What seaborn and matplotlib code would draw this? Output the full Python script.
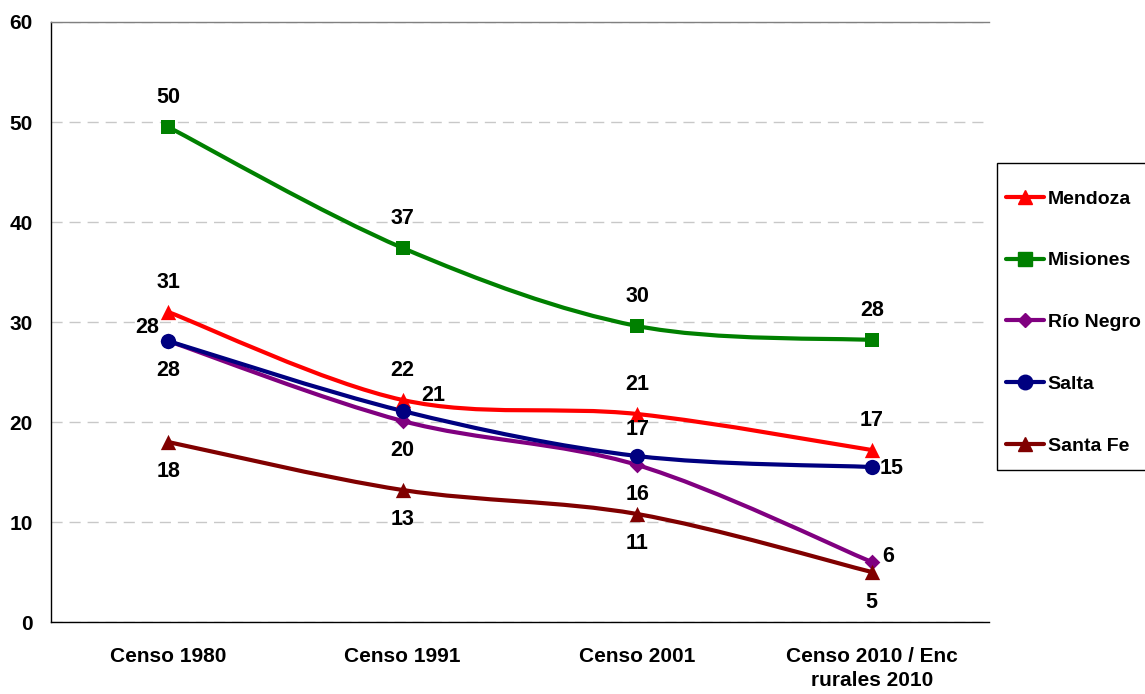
import matplotlib
matplotlib.use("Agg")
import matplotlib.pyplot as plt
import seaborn as sns
import pandas as pd
from matplotlib.path import Path
from matplotlib.patches import PathPatch, Rectangle
from matplotlib.lines import Line2D

# data
censos = ["Censo 1980", "Censo 1991", "Censo 2001", "Censo 2010 / Enc\nrurales 2010"]
mendoza = [31.0, 22.2, 20.8, 17.2]
misiones = [49.5, 37.4, 29.6, 28.2]
rio_negro = [28.1, 20.1, 15.7, 6.0]
salta = [28.1, 21.1, 16.6, 15.5]
santa_fe = [18.0, 13.2, 10.8, 5.0]
etiquetas = {
    "Mendoza": ["31", "22", "21", "17"],
    "Misiones": ["50", "37", "30", "28"],
    "Río Negro": ["28", "20", "16", "6"],
    "Salta": ["28", "21", "17", "15"],
    "Santa Fe": ["18", "13", "11", "5"],
}

series = {
    "Mendoza": mendoza,
    "Misiones": misiones,
    "Río Negro": rio_negro,
    "Salta": salta,
    "Santa Fe": santa_fe,
}
colores = {"Mendoza": "#FF0000", "Misiones": "#008000", "Río Negro": "#800080",
           "Salta": "#000080", "Santa Fe": "#800000"}
marcadores = {"Mendoza": "^", "Misiones": "s", "Río Negro": "D", "Salta": "o", "Santa Fe": "^"}
tamanos = {"Mendoza": 11, "Misiones": 10, "Río Negro": 8, "Salta": 11, "Santa Fe": 11}

# label offsets in points (dx, dy) per series / point
offsets = {
    "Mendoza": [(0, 21), (0, 21), (0, 21), (0, 21)],
    "Misiones": [(0, 21), (0, 21), (0, 21), (0, 21)],
    "Río Negro": [(0, -21), (0, -21), (0, -21), (12, 4)],
    "Salta": [(-15, 10), (22, 11), (0, 19), (14, -1)],
    "Santa Fe": [(0, -21), (0, -21), (0, -21), (0, -22)],
}

rows = []
for nombre, vals in series.items():
    for i, v in enumerate(vals):
        rows.append({"serie": nombre, "x": i, "valor": v})
df = pd.DataFrame(rows)

sns.set_style("white")
plt.rcParams["font.family"] = ["Liberation Sans", "DejaVu Sans"]
plt.rcParams["font.weight"] = "bold"
plt.rcParams["text.color"] = "black"
plt.rcParams["xtick.color"] = "black"
plt.rcParams["ytick.color"] = "black"

fig = plt.figure(figsize=(11.45, 6.94), dpi=100)
ax = fig.add_axes([0.0445, 0.1037, 0.8193, 0.8646])


def curva_suave(xs, ys):
    # Excel-like smoothed line: cubic Bezier through the points
    pts = list(zip(xs, ys))
    verts = [pts[0]]
    codes = [Path.MOVETO]
    n = len(pts)
    for i in range(n - 1):
        p0 = pts[i - 1] if i > 0 else pts[i]
        p1 = pts[i]
        p2 = pts[i + 1]
        p3 = pts[i + 2] if i + 2 < n else pts[i + 1]
        c1 = (p1[0] + (p2[0] - p0[0]) / 6, p1[1] + (p2[1] - p0[1]) / 6)
        c2 = (p2[0] - (p3[0] - p1[0]) / 6, p2[1] - (p3[1] - p1[1]) / 6)
        verts += [c1, c2, p2]
        codes += [Path.CURVE4] * 3
    return Path(verts, codes)


handles = []
for nombre, vals in series.items():
    xs = list(range(len(vals)))
    ax.add_patch(PathPatch(curva_suave(xs, vals), facecolor="none",
                           edgecolor=colores[nombre], lw=3, zorder=2))
    sub = df[df["serie"] == nombre]
    sns.scatterplot(data=sub, x="x", y="valor", ax=ax, color=colores[nombre],
                    marker=marcadores[nombre], s=tamanos[nombre] ** 2,
                    edgecolor=colores[nombre], linewidth=0, zorder=3, legend=False)
    for i, v in enumerate(vals):
        dx, dy = offsets[nombre][i]
        ax.annotate(etiquetas[nombre][i], (i, v), xytext=(dx, dy),
                    textcoords="offset points", ha="center", va="center",
                    fontsize=15.5, fontweight="bold", color="black", zorder=4)
    handles.append(Line2D([], [], color=colores[nombre], lw=3,
                          marker=marcadores[nombre], markersize=tamanos[nombre] * 0.95,
                          label=nombre))

ax.set_xlim(-0.5, 3.5)
ax.set_ylim(0, 60)
ax.set_yticks(range(0, 61, 10))
ax.set_xticks(range(4))
ax.set_xticklabels(censos, fontsize=15, fontweight="bold", linespacing=1.3)
ax.set_xticks([-0.5, 0.5, 1.5, 2.5, 3.5], minor=True)
ax.tick_params(axis="x", which="major", length=0, pad=18)
ax.tick_params(axis="x", which="minor", length=6, width=1, color="black", direction="out")
ax.tick_params(axis="y", length=5, width=1, color="black", direction="out",
               labelsize=15, pad=8)
for lab in ax.get_yticklabels():
    lab.set_fontweight("bold")
ax.set_xlabel("")
ax.set_ylabel("")

ax.yaxis.grid(True, color="#c8c8c8", linestyle=(0, (8, 5)), lw=1)
ax.set_axisbelow(True)
ax.spines["right"].set_visible(False)
ax.spines["top"].set_color("#808080")
ax.spines["top"].set_linewidth(1)
for s in ["left", "bottom"]:
    ax.spines[s].set_color("black")
    ax.spines[s].set_linewidth(1)

# legend box (runs off the right edge like in the original)
W, H = 1145, 694
fig.patches.append(Rectangle((997 / W, 1 - 470 / H), 160 / W, 307 / H,
                             transform=fig.transFigure, facecolor="white",
                             edgecolor="black", lw=1, zorder=0))
leg = fig.legend(handles=handles, loc="upper left", bbox_to_anchor=(1006 / W, 1 - 190 / H),
                 frameon=False, prop={"weight": "bold", "size": 14},
                 handlelength=1.95, handletextpad=0.2, labelspacing=2.27,
                 borderpad=0, borderaxespad=0)

fig.savefig("out.png", dpi=100)
